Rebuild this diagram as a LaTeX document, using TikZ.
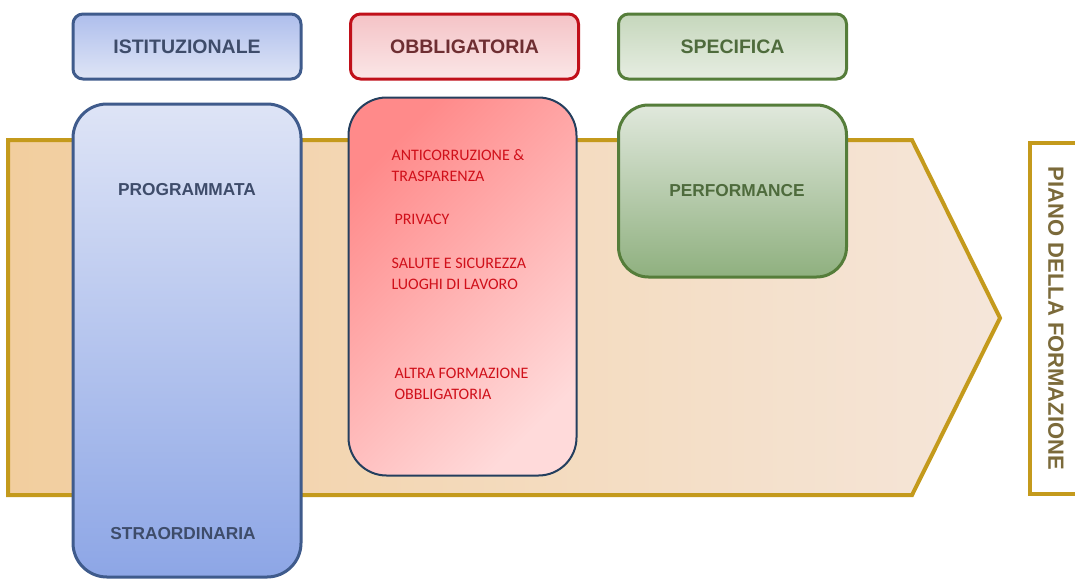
\documentclass[tikz,border=0pt]{standalone}
\usepackage{fontspec}
\setmainfont{Liberation Sans}
\newfontfamily\calibrifont{Carlito}

\definecolor{goldline}{HTML}{C49A1C}
\definecolor{bodyleft}{HTML}{F2CE9E}
\definecolor{bodyright}{HTML}{F5E6DA}
\definecolor{blueline}{HTML}{3F5B8C}
\definecolor{bluetext}{HTML}{3E4C6A}
\definecolor{bluetop}{HTML}{DEE4F6}
\definecolor{bluebottom}{HTML}{8DA6E6}
\definecolor{blueheadtop}{HTML}{AEBEEC}
\definecolor{blueheadbottom}{HTML}{DFE5F6}
\definecolor{redline}{HTML}{C0101A}
\definecolor{redtext}{HTML}{6E2E32}
\definecolor{redheadtop}{HTML}{F4C3C6}
\definecolor{redheadbottom}{HTML}{FBE6E7}
\definecolor{redtop}{HTML}{FF8A8A}
\definecolor{redbottom}{HTML}{FFDADA}
\definecolor{navyline}{HTML}{243F5E}
\definecolor{itemred}{HTML}{D0101A}
\definecolor{greenline}{HTML}{557D3A}
\definecolor{greentext}{HTML}{4E6B3C}
\definecolor{greentop}{HTML}{E0E8DC}
\definecolor{greenbottom}{HTML}{8FB07F}
\definecolor{greenheadtop}{HTML}{C6D7BC}
\definecolor{greenheadbottom}{HTML}{E6EDE2}
\definecolor{pianotext}{HTML}{7B6A3A}

\tikzset{
  headbox/.style = {draw, line width=3pt, rounded corners=10pt,
    minimum width=228pt, minimum height=65pt, inner sep=0pt,
    font=\fontsize{19.5}{21}\selectfont\bfseries},
  colbox/.style = {draw, line width=3pt, rounded corners=34pt,
    minimum width=228pt, inner sep=0pt},
  coltext/.style = {font=\fontsize{17.3}{19}\selectfont\bfseries},
  item/.style = {anchor=west, align=left, text=itemred,
    font=\calibrifont\fontsize{16}{21}\selectfont}
}

\begin{document}
\begin{tikzpicture}[x=1pt,y=-1pt]
  \useasboundingbox (0,0) rectangle (1075,579);
  \clip (0,0) rectangle (1075,579);
  % freccia di fondo
  \draw [goldline, line width=4pt, left color=bodyleft, right color=bodyright]
    (8,140) -- (912,140) -- (1000,318) -- (912,495) -- (8,495) -- cycle;
  % colonne
  \node [colbox, blueline, minimum height=473pt, top color=bluetop,
    bottom color=bluebottom] (istbody) at (187,340.5) {};
  \node [colbox, navyline, line width=2pt, rounded corners=38pt,
    minimum height=378pt, top color=redtop, bottom color=redbottom,
    shading angle=45] (obbbody) at (462.5,286.5) {};
  \node [colbox, greenline, rounded corners=30pt, minimum height=172pt,
    top color=greentop, bottom color=greenbottom] (specbody) at (732.5,191) {};
  \node [coltext, bluetext] (programmata) at (187,190) {PROGRAMMATA};
  \node [coltext, bluetext] (straordinaria) at (183,534) {STRAORDINARIA};
  \node [coltext, greentext] (performance) at (737,191) {PERFORMANCE};
  \node [item] (anticorr) at (388,165.5) {ANTICORRUZIONE \&\\TRASPARENZA};
  \node [item] (privacy) at (391,219) {PRIVACY};
  \node [item] (salute) at (388,273.5) {SALUTE E SICUREZZA\\LUOGHI DI LAVORO};
  \node [item] (altra) at (391,383.5) {ALTRA FORMAZIONE\\OBBLIGATORIA};
  % intestazioni
  \node [headbox, blueline, text=bluetext, top color=blueheadtop,
    bottom color=blueheadbottom] (ist) at (187,46.5) {ISTITUZIONALE};
  \node [headbox, redline, text=redtext, top color=redheadtop,
    bottom color=redheadbottom] (obb) at (464.5,46.5) {OBBLIGATORIA};
  \node [headbox, greenline, text=greentext, top color=greenheadtop,
    bottom color=greenheadbottom] (spec) at (732.5,46.5) {SPECIFICA};
  % etichetta a destra
  \node [draw=goldline, line width=4pt, fill=white, rotate=-90,
    minimum width=351pt, minimum height=52pt, text=pianotext,
    font=\fontsize{22}{24}\selectfont\bfseries] (piano) at (1056,318.5)
    {PIANO DELLA FORMAZIONE};
\end{tikzpicture}
\end{document}
